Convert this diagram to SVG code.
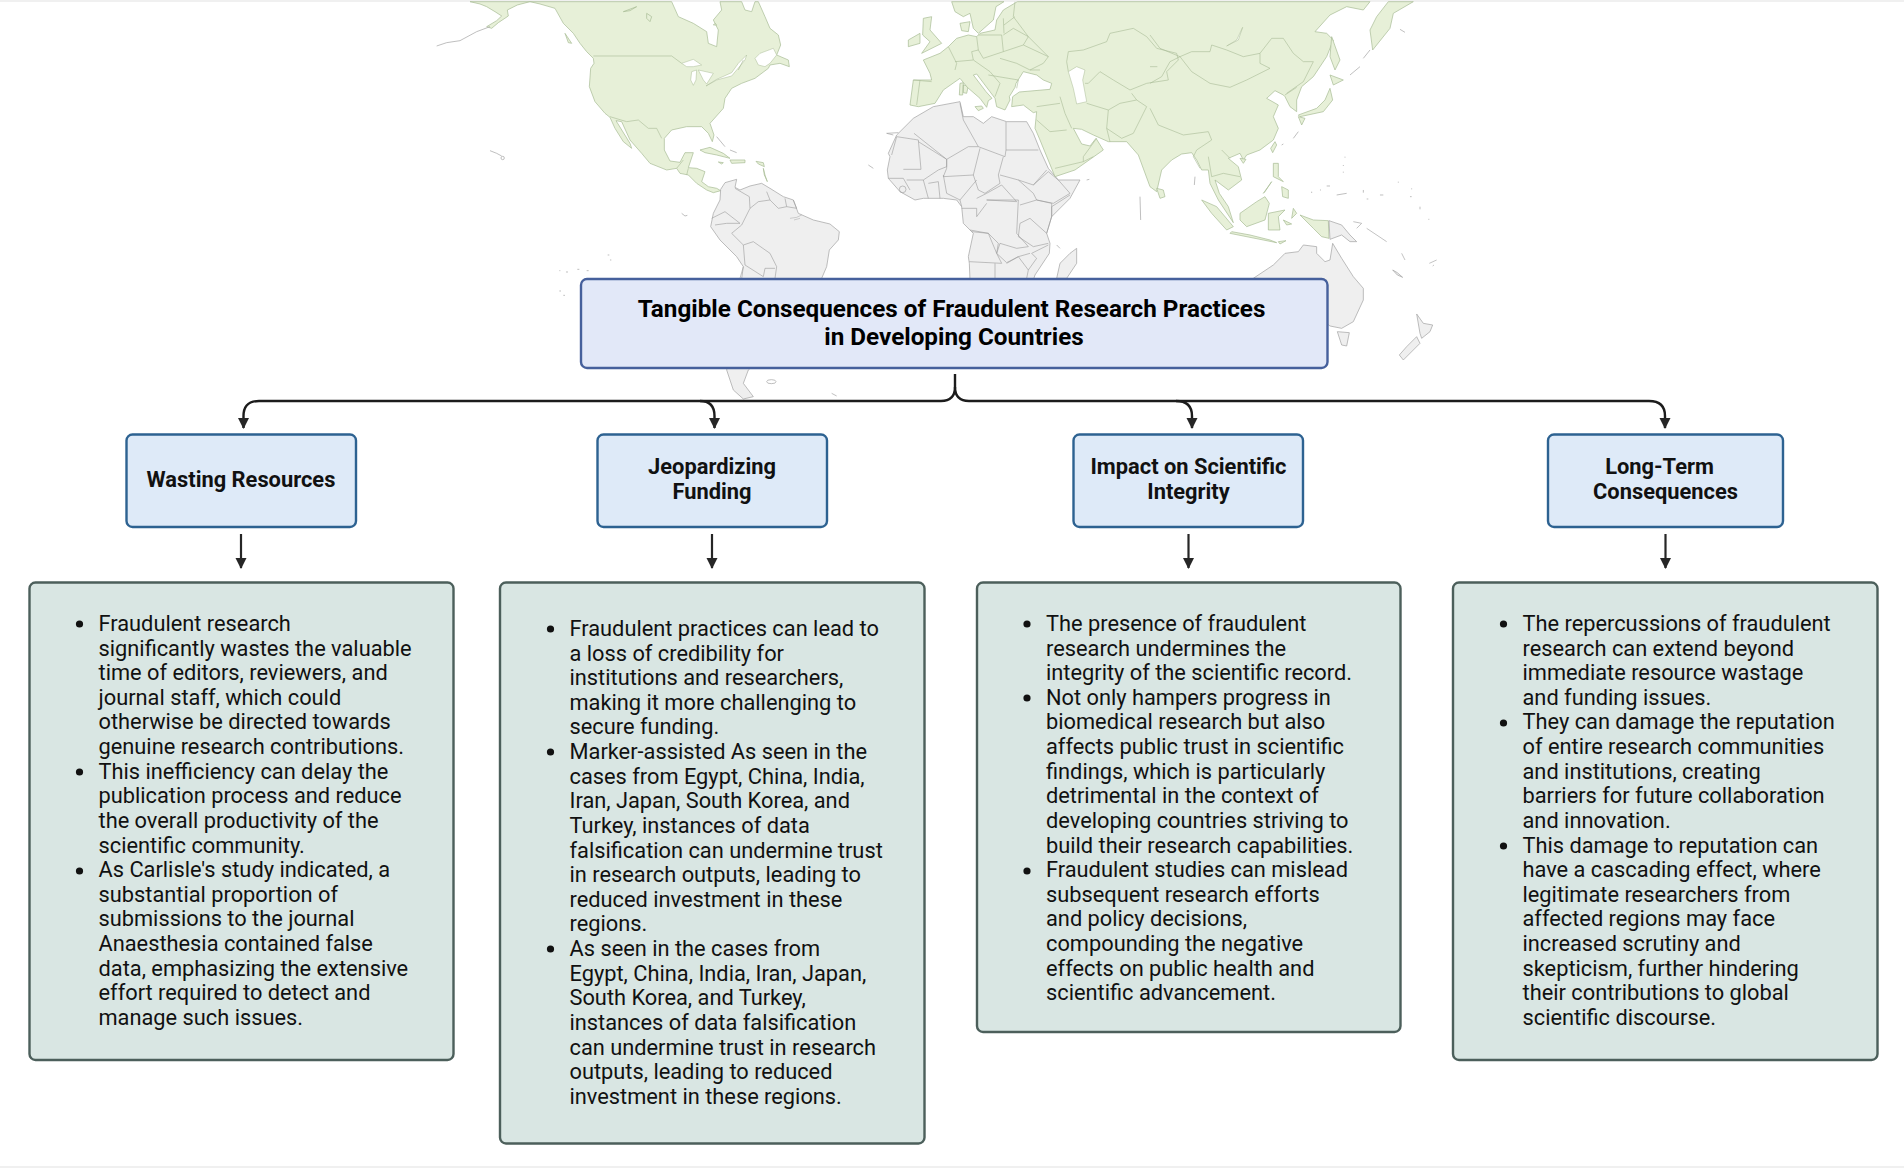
<svg xmlns="http://www.w3.org/2000/svg" width="1904" height="1168" viewBox="0 0 1904 1168">
<style>
text{font-family:Roboto,"Liberation Sans",sans-serif;fill:#111}
.body{font-size:21.8px}
.sub{font-size:21.85px;font-weight:700;text-anchor:middle}
.title{font-size:24.25px;font-weight:700;text-anchor:middle;fill:#000}
.g{fill:#e7f0d8;stroke:#a8bb95;stroke-width:.7;stroke-linejoin:round;vector-effect:non-scaling-stroke}
.a{fill:#efefef;stroke:#a2a2a2;stroke-width:.7;stroke-linejoin:round;vector-effect:non-scaling-stroke}
.gb{fill:none;stroke:#a8bb95;stroke-width:.6;stroke-linejoin:round;vector-effect:non-scaling-stroke}
.ab{fill:none;stroke:#9a9a9a;stroke-width:.6;stroke-linejoin:round;vector-effect:non-scaling-stroke}
.w{fill:#fff;stroke:#a8bb95;stroke-width:.5;vector-effect:non-scaling-stroke}
.d{fill:none;stroke:#a4a4a4;stroke-width:.7;vector-effect:non-scaling-stroke}
.main{fill:#e2e8f8;stroke:#46609c;stroke-width:2.4}
.head{fill:#deeaf8;stroke:#2d6291;stroke-width:2.4}
.detail{fill:#d9e6e3;stroke:#4c5f5b;stroke-width:2.4}
.c{fill:none;stroke:#1c1c1c;stroke-width:2.4}
.k{fill:none;stroke:#262626;stroke-width:2.2}
.dot{fill:#111}
</style>
<defs>
<marker id="ah" markerUnits="userSpaceOnUse" markerWidth="12" markerHeight="12" refX="10" refY="6" orient="auto"><path d="M0,0.5 L11,6 L0,11.5Z" fill="#262626"/></marker>
</defs>
<rect width="1904" height="1168" fill="#fff"/>
<path d="M0,1H1904M0,1167H1904" stroke="#ececec" stroke-width="1.5"/>
<g id="map">
<g transform="translate(430,0) scale(.33333)">
<path class="g" d="M120,5L150,12L170,20L195,35L215,48L200,62L170,80L185,85L205,68L235,48L232,30L262,15L300,5L725,5L745,50L790,70L830,95L835,130L860,140L865,90L850,60L875,30L870,5L935,5L945,30L965,35L975,5L985,5L1005,50L1020,85L1045,105L1052,135L1040,165L1075,180L1078,200L1050,190L1020,195L1015,205L975,235L935,250L905,265L885,295L880,325L840,370L852,405L847,425L835,400L815,380L770,380L725,390L703,415L703,450L720,483L750,487L765,458L790,458L775,503L800,505L825,515L815,545L835,560L860,565L872,572L850,578L830,570L800,550L775,525L750,520L740,505L710,510L660,490L635,460L600,420L575,365L558,362L600,430L605,445L580,425L555,385L540,352L525,340L495,305L478,260L482,205L492,190L490,175L470,155L450,130L430,100L400,70L375,25L330,12L300,5Z"/>
<path class="w" d="M975,175L990,160L1030,145L1040,165L1020,190L1005,200L985,195ZM755,190L790,178L815,195L790,200L770,200ZM785,215L800,210L798,240L790,256L782,240ZM805,210L850,220L830,252L820,240ZM828,258L860,238L905,218L925,190L950,165L945,180L905,228L860,240Z"/>
<path class="gb" d="M490,168L725,168L755,190M540,350L590,365L625,360L655,385L680,385L695,415M740,505L760,480M775,505L770,525M940,180L925,210"/>
<path class="g" d="M405,100L425,130L415,128ZM810,450L840,442L880,460L900,475L860,465L825,458ZM900,480L945,480L945,488L905,490ZM865,486L880,488L875,492ZM978,484L1000,488L1003,500L985,492ZM1000,505L1005,525L1012,545L1003,525ZM650,40L665,50L660,65L650,55ZM580,35L620,20L600,32ZM855,70L860,75L850,75Z"/>
<path class="d" d="M20,138L50,128L90,122L140,95L180,80M180,452L200,460L215,468M860,410L885,440M900,450L920,458"/>
<circle class="d" cx="218" cy="474" r="5"/>
<path class="d" d="M755,640L765,648L772,646M533,765h5M540,780h4M388,812h3M408,816h6M442,808h6M470,812h6M388,873h5M400,886h5"/>
</g>
<g transform="translate(690,100) scale(.33333)">
<path class="a" d="M92,268L105,248L140,238L135,262L150,270L180,258L215,250L240,265L280,290L310,300L325,340L370,360L420,372L448,395L445,420L418,450L410,500L395,535L300,700L175,810L160,850L190,890L160,897L130,870L110,810L150,600L155,535L160,500L140,470L90,420L62,380L70,340L90,300Z"/>
<path class="ab" d="M135,265L178,290L180,325L205,305L240,300L230,275M240,300L265,325L290,320L285,295M290,320L320,325L310,300M180,325L155,375L125,400L160,435L190,425L240,460L260,500L255,535M65,355L105,335L150,370L110,370L75,375M160,435L165,495L220,530L225,505L255,505M160,500L150,535"/>
<path d="M300,355L320,352L335,345M312,360L330,355" fill="none" stroke="#666" stroke-width=".8"/>
<path class="a" d="M595,160L620,105L670,55L730,20L810,5L820,50L850,50L880,70L905,50L950,65L1010,65L1030,100L1050,150L1075,205L1105,240L1170,240L1140,295L1085,350L1070,400L1080,430L1078,460L1035,525L1030,540L840,540L838,490L835,470L850,400L820,370L815,320L800,300L760,295L700,295L675,300L630,275L595,235L592,210L600,170Z"/>
<path class="ab" d="M672,100L770,178L835,140L865,140L820,60L810,10M948,65L948,150L1045,150M865,140L945,170L948,150M605,165L620,110L685,120L693,208L640,208M685,125L770,178L770,200L745,210L700,240M770,178L770,205L760,230L850,225L870,145M940,170L925,225L930,250L885,280L865,270L850,225M985,240L1030,255L1070,210M930,225L985,240M760,225L770,280L810,300L860,240M860,295L890,280L935,255L980,305L890,300M1030,255L1075,215L1105,240L1140,280L1090,310L1040,300M1085,350L1085,320L1140,285M985,240L1030,280L1040,300L990,315M890,300L985,300L980,400L1015,440L980,445L930,430L920,460L895,400L840,390M845,395L895,400L925,430L920,460L935,490L838,485M1040,300L1085,310L1085,350L1070,400L1020,355M1020,355L990,370L985,410L1030,440L1075,430M1075,435L1025,460L1040,475L1015,510M920,460L950,488L985,470L1020,460M915,490L915,535M950,490L985,470L1015,510L1010,535M595,235L640,235L660,270M650,240L700,240L715,295M745,245L750,295M715,250L745,245M815,325L860,325L860,350L890,310M810,300L815,320"/>
<path class="a" d="M1140,460L1160,445L1160,490L1130,535L1100,535L1110,490Z"/>
<circle class="ab" cx="638" cy="268" r="10"/>
<path class="d" d="M590,100L610,105M535,195L550,205M1100,435L1110,445M230,845a14,6 0 1 0 28,0a14,6 0 1 0 -28,0M425,880L440,888"/>
</g>
<g transform="translate(880,0) scale(.33333)">
<path class="g" d="M215,5L225,35L250,50L270,40L280,85L295,100L340,60L348,20L372,5Z"/>
<path class="g" d="M240,70L270,65L265,95L245,92Z"/>
<path class="g" d="M130,55L155,50L150,90L185,130L125,160L150,125L128,105ZM85,120L120,100L120,130L85,140ZM240,250L250,248L248,285L238,285ZM250,255L265,258L260,280L250,278ZM285,320L305,318L310,325L295,332Z"/>
<path class="g" d="M412,5L370,30L350,60L345,90L300,100L290,110L265,105L230,115L205,140L180,160L130,180L150,220L155,240L100,240L90,315L115,320L165,310L190,270L240,235L262,262L300,295L320,322L325,302L336,295L318,275L280,225L290,222L345,295L350,320L375,330L390,300L388,290L405,262L408,250L430,215L470,225L490,240L515,250L510,268L418,276L398,290L395,320L430,315L460,338L470,335L465,385L480,420L525,530L585,510L670,450L648,415L630,438L605,432L580,385L605,388L640,405L685,425L740,425L775,465L810,560L830,575L845,510L875,480L905,462L935,458L950,480L965,510L985,510L990,550L1015,600L1060,668L1045,620L1018,580L1005,540L1045,570L1085,540L1075,500L1045,475L1080,460L1090,480L1100,465L1140,450L1180,420L1195,385L1180,350L1195,315L1160,295L1185,272L1210,285L1215,290L1230,320L1250,335L1250,300L1265,260L1300,230L1340,170L1360,120L1340,100L1305,95L1350,45L1400,20L1450,30L1470,5Z"/>
<path class="gb" d="M405,5L400,50L445,110L505,170L490,190L450,210L480,210M565,215L560,185L565,155L610,150L680,125L690,100L760,85L800,110L830,145L890,160L895,180L860,215L865,240L800,250L750,270L700,240L660,215L625,250L615,250M540,290L555,340L575,385M620,310L685,330L680,385L690,425M685,330L720,310L770,300L800,320L790,340L760,400L725,415L680,385M770,300L755,280M470,320L540,310M470,360L510,395L560,390M525,505L610,485L640,470M610,485L610,470L650,415M205,140L230,190L225,210M290,110L295,150L275,155L280,180L225,185M295,105L365,105L370,155L310,175L295,150M370,155L430,135L505,170M360,175L410,190L450,210M370,105L400,85L445,110L430,135M120,240L110,315M100,240L155,245M325,225L415,240L410,265M330,215L360,250L345,290M370,55L372,100M405,50L372,75M280,180L330,215"/>
<path class="w" d="M565,215L590,200L615,210L608,240L620,305L590,312L580,265Z"/>
<path class="d" d="M20,400L55,398M780,590L782,660M620,540L628,538"/>
</g>
<g transform="translate(1150,0) scale(.33333)">
<path class="gb" d="M0,105L30,145L90,170L125,155L180,155L185,135L230,150L280,170L330,160L365,115L400,115L430,160L460,185L490,185L460,245L410,280M90,170L125,215L180,250L240,262L290,240L360,205L330,190L330,160M90,170L60,185L35,230L0,250M0,325L25,375L100,405L175,395L185,420L140,450L130,470L150,505M175,470L185,530L220,520L270,530M215,450L240,475M405,285L440,262M0,200H22"/>
<path class="w" d="M230,138L260,120L278,82L265,120Z"/>
<path class="g" d="M715,5L680,50L660,90L668,150L720,85L730,40L790,5Z"/>
<path class="g" d="M545,110L570,180L555,210L540,170ZM540,225L580,240L550,255ZM540,265L548,300L520,335L450,350L445,345L500,325L525,300ZM445,350L465,355L455,375ZM375,425L380,435L368,458L362,445ZM270,475L288,478L280,490ZM370,490L385,490L385,530L400,545L370,530ZM395,560L415,570L415,595L398,590ZM340,580L365,545L345,575ZM270,640L320,605L345,590L358,610L345,660L290,680L270,660ZM155,600L200,620L250,680L230,690L185,640ZM355,640L405,630L385,650L390,690L355,690Z"/>
<path class="g" d="M20,565L40,570L45,590L30,595Z"/>
<path class="d" d="M135,530L133,555M430,415L445,395M395,435L400,432M750,88L765,97M640,175L660,150M600,225L630,200M585,470v3M580,495v3M580,515v3M530,558h10M485,575v4M510,570h3M560,585L590,580M640,570v8M650,597h5M690,585h10M745,545v3M785,565v3M780,590h5M810,620v8M835,658h3"/>
</g>
<g transform="translate(1150,200) scale(.33333)">
<path class="g" d="M245,95L300,105L360,120L380,128L300,112L240,100ZM450,45L490,60L535,62L537,115L515,110L490,85ZM385,125L408,122L390,132ZM430,25L440,40L425,55ZM400,60L425,72L410,75Z"/>
<path class="a" d="M537,62L575,75L600,105L620,125L600,125L575,105L540,118Z"/>
<path class="a" d="M310,235L370,195L405,160L445,155L460,135L500,140L500,160L525,185L540,180L548,130L575,175L610,230L640,265L640,300L610,365L575,385L540,378L530,370L530,240Z"/>
<path class="a" d="M562,395L598,398L590,438L575,435ZM800,342L820,370L848,375L840,395L815,415L810,400ZM800,410L810,430L760,480L748,465L770,440ZM728,210L742,218L758,232L742,225Z"/>
<path class="ab" d="M610,65L635,70L620,85M650,85L710,125M755,160L765,180M838,190L860,180M848,198L852,195"/>
</g>
</g>
<g id="connectors">
<path class="c" d="M955,374V387Q955,401 941,401H259Q243.500,401 243.500,416V428" marker-end="url(#ah)"/>
<path class="c" d="M955,387Q955,401 969,401H1649Q1665,401 1665,416V428" marker-end="url(#ah)"/>
<path class="c" d="M700,401Q714.500,401 714.500,416V428" marker-end="url(#ah)"/>
<path class="c" d="M1176,401Q1192,401 1192,416V428" marker-end="url(#ah)"/>
<path class="k" d="M241,534V568" marker-end="url(#ah)"/>
<path class="k" d="M712,534V568" marker-end="url(#ah)"/>
<path class="k" d="M1188.500,534V568" marker-end="url(#ah)"/>
<path class="k" d="M1665.500,534V568" marker-end="url(#ah)"/>
</g>
<g id="title"><rect class="main" x="581" y="279" width="746.500" height="89" rx="6"/>
<text class="title"><tspan x="951.500" y="317">Tangible Consequences of Fraudulent Research Practices</tspan><tspan x="954" y="345">in Developing Countries</tspan></text></g>
<g id="head1"><rect class="head" x="126.500" y="434.500" width="229.500" height="92.500" rx="6"/><text class="sub" x="241" y="487">Wasting Resources</text></g>
<g id="head2"><rect class="head" x="597.500" y="434.500" width="229.500" height="92.500" rx="6"/><text class="sub"><tspan x="712" y="474.300">Jeopardizing</tspan><tspan x="712" y="499">Funding</tspan></text></g>
<g id="head3"><rect class="head" x="1073.500" y="434.500" width="229.500" height="92.500" rx="6"/><text class="sub"><tspan x="1188.500" y="474.300">Impact on Scientific</tspan><tspan x="1188.500" y="499">Integrity</tspan></text></g>
<g id="head4"><rect class="head" x="1548" y="434.500" width="235" height="92.500" rx="6"/><text class="sub"><tspan x="1659.500" y="474.300">Long-Term</tspan><tspan x="1665.500" y="499">Consequences</tspan></text></g>
<g id="detail1"><rect class="detail" x="29.500" y="582.500" width="424" height="477.500" rx="6"/>
<circle class="dot" cx="79.500" cy="624" r="3.600"/><circle class="dot" cx="79.500" cy="772" r="3.600"/><circle class="dot" cx="79.500" cy="871" r="3.600"/>
<text class="body"><tspan x="98.500" y="631">Fraudulent research</tspan><tspan x="98.500" dy="24.620">significantly wastes the valuable</tspan><tspan x="98.500" dy="24.620">time of editors, reviewers, and</tspan><tspan x="98.500" dy="24.620">journal staff, which could</tspan><tspan x="98.500" dy="24.620">otherwise be directed towards</tspan><tspan x="98.500" dy="24.620">genuine research contributions.</tspan><tspan x="98.500" dy="24.620">This inefficiency can delay the</tspan><tspan x="98.500" dy="24.620">publication process and reduce</tspan><tspan x="98.500" dy="24.620">the overall productivity of the</tspan><tspan x="98.500" dy="24.620">scientific community.</tspan><tspan x="98.500" dy="24.620">As Carlisle's study indicated, a</tspan><tspan x="98.500" dy="24.620">substantial proportion of</tspan><tspan x="98.500" dy="24.620">submissions to the journal</tspan><tspan x="98.500" dy="24.620">Anaesthesia contained false</tspan><tspan x="98.500" dy="24.620">data, emphasizing the extensive</tspan><tspan x="98.500" dy="24.620">effort required to detect and</tspan><tspan x="98.500" dy="24.620">manage such issues.</tspan></text></g>
<g id="detail2"><rect class="detail" x="500" y="582.500" width="424.500" height="561" rx="6"/>
<circle class="dot" cx="550.500" cy="629" r="3.600"/><circle class="dot" cx="550.500" cy="752" r="3.600"/><circle class="dot" cx="550.500" cy="949" r="3.600"/>
<text class="body"><tspan x="569.500" y="636">Fraudulent practices can lead to</tspan><tspan x="569.500" dy="24.620">a loss of credibility for</tspan><tspan x="569.500" dy="24.620">institutions and researchers,</tspan><tspan x="569.500" dy="24.620">making it more challenging to</tspan><tspan x="569.500" dy="24.620">secure funding.</tspan><tspan x="569.500" dy="24.620">Marker-assisted As seen in the</tspan><tspan x="569.500" dy="24.620">cases from Egypt, China, India,</tspan><tspan x="569.500" dy="24.620">Iran, Japan, South Korea, and</tspan><tspan x="569.500" dy="24.620">Turkey, instances of data</tspan><tspan x="569.500" dy="24.620">falsification can undermine trust</tspan><tspan x="569.500" dy="24.620">in research outputs, leading to</tspan><tspan x="569.500" dy="24.620">reduced investment in these</tspan><tspan x="569.500" dy="24.620">regions.</tspan><tspan x="569.500" dy="24.620">As seen in the cases from</tspan><tspan x="569.500" dy="24.620">Egypt, China, India, Iran, Japan,</tspan><tspan x="569.500" dy="24.620">South Korea, and Turkey,</tspan><tspan x="569.500" dy="24.620">instances of data falsification</tspan><tspan x="569.500" dy="24.620">can undermine trust in research</tspan><tspan x="569.500" dy="24.620">outputs, leading to reduced</tspan><tspan x="569.500" dy="24.620">investment in these regions.</tspan></text></g>
<g id="detail3"><rect class="detail" x="977" y="582.500" width="423.500" height="449.500" rx="6"/>
<circle class="dot" cx="1027" cy="624" r="3.600"/><circle class="dot" cx="1027" cy="698" r="3.600"/><circle class="dot" cx="1027" cy="871" r="3.600"/>
<text class="body"><tspan x="1046" y="631">The presence of fraudulent</tspan><tspan x="1046" dy="24.620">research undermines the</tspan><tspan x="1046" dy="24.620">integrity of the scientific record.</tspan><tspan x="1046" dy="24.620">Not only hampers progress in</tspan><tspan x="1046" dy="24.620">biomedical research but also</tspan><tspan x="1046" dy="24.620">affects public trust in scientific</tspan><tspan x="1046" dy="24.620">findings, which is particularly</tspan><tspan x="1046" dy="24.620">detrimental in the context of</tspan><tspan x="1046" dy="24.620">developing countries striving to</tspan><tspan x="1046" dy="24.620">build their research capabilities.</tspan><tspan x="1046" dy="24.620">Fraudulent studies can mislead</tspan><tspan x="1046" dy="24.620">subsequent research efforts</tspan><tspan x="1046" dy="24.620">and policy decisions,</tspan><tspan x="1046" dy="24.620">compounding the negative</tspan><tspan x="1046" dy="24.620">effects on public health and</tspan><tspan x="1046" dy="24.620">scientific advancement.</tspan></text></g>
<g id="detail4"><rect class="detail" x="1453" y="582.500" width="424.500" height="477.500" rx="6"/>
<circle class="dot" cx="1503.500" cy="624" r="3.600"/><circle class="dot" cx="1503.500" cy="723" r="3.600"/><circle class="dot" cx="1503.500" cy="846" r="3.600"/>
<text class="body"><tspan x="1522.500" y="631">The repercussions of fraudulent</tspan><tspan x="1522.500" dy="24.620">research can extend beyond</tspan><tspan x="1522.500" dy="24.620">immediate resource wastage</tspan><tspan x="1522.500" dy="24.620">and funding issues.</tspan><tspan x="1522.500" dy="24.620">They can damage the reputation</tspan><tspan x="1522.500" dy="24.620">of entire research communities</tspan><tspan x="1522.500" dy="24.620">and institutions, creating</tspan><tspan x="1522.500" dy="24.620">barriers for future collaboration</tspan><tspan x="1522.500" dy="24.620">and innovation.</tspan><tspan x="1522.500" dy="24.620">This damage to reputation can</tspan><tspan x="1522.500" dy="24.620">have a cascading effect, where</tspan><tspan x="1522.500" dy="24.620">legitimate researchers from</tspan><tspan x="1522.500" dy="24.620">affected regions may face</tspan><tspan x="1522.500" dy="24.620">increased scrutiny and</tspan><tspan x="1522.500" dy="24.620">skepticism, further hindering</tspan><tspan x="1522.500" dy="24.620">their contributions to global</tspan><tspan x="1522.500" dy="24.620">scientific discourse.</tspan></text></g>
</svg>
